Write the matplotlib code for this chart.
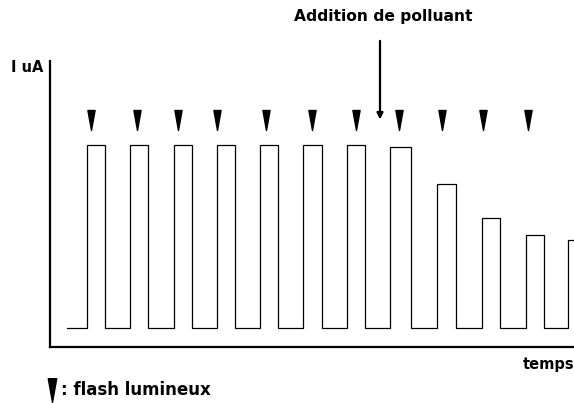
import matplotlib
matplotlib.use("Agg")
import matplotlib.pyplot as plt
from matplotlib.path import Path
from matplotlib.lines import Line2D

# Data (time in arbitrary units, current in % of initial response)
pulse_start = [37, 80, 124, 167, 210, 253, 297, 340, 387, 432, 476, 518]
pulse_end = [55, 98, 142, 185, 228, 272, 315, 361, 406, 450, 494, 540]
pulse_peak = [100, 100, 100, 100, 100, 100, 100, 99, 79, 60, 51, 48]
flash_times = [41, 87, 128, 167, 216, 262, 306, 349, 392, 433, 478]
flash_level = 114
baseline = 0
t_begin = 17
pollutant_time = 330

W, H = 574, 403
fig = plt.figure(figsize=(W / 100, H / 100), dpi=100)
ax = fig.add_axes([50 / W, (H - 347) / H, (W - 50) / W, (347 - 61) / H])
ax.set_xlim(0, 524)
ax.set_ylim(-10.4, 146)

xs, ys = [t_begin], [baseline]
for s, e, p in zip(pulse_start, pulse_end, pulse_peak):
    xs += [s, s, e, e]
    ys += [baseline, p, p, baseline]
ax.plot(xs, ys, color="black", lw=0.9, solid_joinstyle="miter")

tri = Path([(-0.36, 1), (0.36, 1), (0, -1), (-0.36, 1)],
           [Path.MOVETO, Path.LINETO, Path.LINETO, Path.CLOSEPOLY])
ax.plot(flash_times, [flash_level] * len(flash_times), ls="none",
        marker=tri, markersize=14.4, color="black")

for sp in ["top", "right"]:
    ax.spines[sp].set_visible(False)
for sp in ["left", "bottom"]:
    ax.spines[sp].set_linewidth(1.6)
ax.set_xticks([])
ax.set_yticks([])

font = dict(family="DejaVu Sans", weight="bold")
ax.annotate("", xy=(pollutant_time, 114), xytext=(pollutant_time, 157),
            arrowprops=dict(arrowstyle="-|>", lw=1.6, color="black",
                            mutation_scale=9, shrinkA=0, shrinkB=0),
            annotation_clip=False)
fig.text(383 / W, 1 - 17 / H, "Addition de polluant", ha="center", va="center",
         fontsize=11.2, **font)
fig.text(43 / W, 1 - 68 / H, "I uA", ha="right", va="center", fontsize=10.5, **font)
fig.text(574 / W, 1 - 364 / H, "temps", ha="right", va="center", fontsize=10.5, **font)
fig.text(61 / W, 1 - 390 / H, ": flash lumineux", ha="left", va="center",
         fontsize=12, **font)
fig.add_artist(Line2D([52 / W], [1 - 390 / H], transform=fig.transFigure,
                      ls="none", marker=tri, markersize=17, color="black"))

fig.savefig("out.png", dpi=100)
